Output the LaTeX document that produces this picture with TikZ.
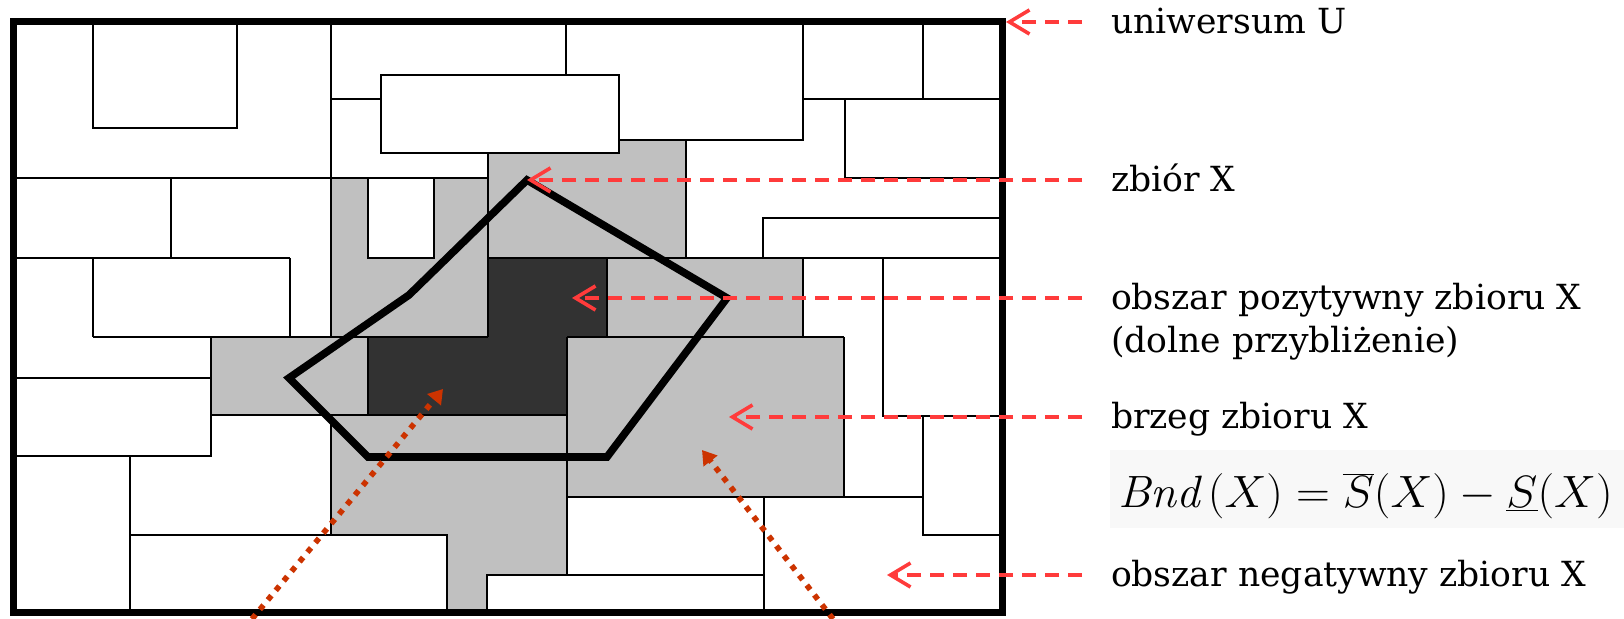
\documentclass[tikz,border=0pt]{standalone}
\usepackage{fontspec}
\usepackage{tikz}
\usetikzlibrary{positioning, arrows.meta}
\newfontfamily\lblfont{DejaVu Serif}
\definecolor{cellgray}{HTML}{C0C0C0}
\definecolor{coregray}{HTML}{323232}
\definecolor{pointred}{HTML}{FF3B3B}
\definecolor{rust}{HTML}{CC3300}
\definecolor{haze}{HTML}{F8F8F8}

\begin{document}
\begin{tikzpicture}[x=0.5pt, y=-0.5pt,
  cell/.style={draw=black, line width=1.1pt},
  frame/.style={draw=black, line width=3.5pt, inner sep=0pt, outer sep=0pt},
  setx/.style={draw=black, line width=3.8pt},
  lbl/.style={font=\lblfont\fontsize{17.3pt}{22pt}\selectfont, anchor=west,
              inner xsep=14.5pt, inner ysep=0pt, outer sep=0pt,
              text height=13pt, text depth=1pt},
  pointer/.style={draw=pointred, line width=1.8pt, dash pattern=on 7pt off 4.5pt,
                  -{Straight Barb[length=10pt, width=12pt]}},
  dotarrow/.style={draw=rust, line width=2.8pt, dash pattern=on 2.8pt off 3.4pt,
                   -{Triangle[length=7pt, width=8.5pt]}}
]
  \useasboundingbox (0,0) rectangle (1624,619);
  \fill[white] (0,0) rectangle (1624,619);

  % boundary region and lower approximation
  \fill[cellgray] (331,178) rectangle (488,337)
    (488,140) rectangle (686,258)
    (607,258) rectangle (803,337)
    (211,337) rectangle (368,415)
    (331,415) rectangle (567,535)
    (447,535) rectangle (567,575)
    (447,575) rectangle (487,613)
    (567,337) rectangle (844,497);
  \fill[coregray] (488,258) -- (607,258) -- (607,337) -- (567,337) -- (567,415)
    -- (368,415) -- (368,337) -- (488,337) -- cycle;

  % elementary sets
  \draw[cell, fill=white] (368,178) rectangle (434,258);
  \draw[cell, fill=white] (381,75) rectangle (619,153);
  \draw[cell] (93,22) -- (93,128) -- (237,128) -- (237,22);
  \draw[cell] (13,178) -- (488,178);
  \draw[cell] (331,22) -- (331,337);
  \draw[cell] (331,99) -- (381,99);
  \draw[cell] (566,22) -- (566,75);
  \draw[cell] (803,22) -- (803,140) -- (619,140);
  \draw[cell] (923,22) -- (923,99);
  \draw[cell] (803,99) -- (1002,99);
  \draw[cell] (845,99) -- (845,178) -- (1002,178);
  \draw[cell] (686,140) -- (686,258);
  \draw[cell] (763,258) -- (763,218) -- (1002,218);
  \draw[cell] (488,258) -- (1002,258);
  \draw[cell] (488,153) -- (488,337);
  \draw[cell] (171,178) -- (171,258);
  \draw[cell] (13,258) -- (290,258);
  \draw[cell] (93,258) -- (93,337);
  \draw[cell] (290,258) -- (290,337);
  \draw[cell] (93,337) -- (488,337);
  \draw[cell] (13,378) -- (211,378);
  \draw[cell] (211,337) -- (211,456) -- (13,456);
  \draw[cell] (211,415) -- (567,415);
  \draw[cell] (368,337) -- (368,415);
  \draw[cell] (607,258) -- (607,337);
  \draw[cell] (567,337) -- (844,337);
  \draw[cell] (567,337) -- (567,575);
  \draw[cell] (803,258) -- (803,337);
  \draw[cell] (844,337) -- (844,497);
  \draw[cell] (883,258) -- (883,416) -- (1002,416);
  \draw[cell] (923,416) -- (923,535) -- (1002,535);
  \draw[cell] (567,497) -- (923,497);
  \draw[cell] (764,497) -- (764,613);
  \draw[cell] (487,613) -- (487,575) -- (764,575);
  \draw[cell] (331,415) -- (331,535);
  \draw[cell] (130,456) -- (130,613);
  \draw[cell] (130,535) -- (447,535) -- (447,613);

  \node[frame, minimum width=494.5pt, minimum height=295.5pt, anchor=north west] (univ) at (13,22) {};

  % the set X
  \coordinate (xtop) at (527,180);
  \draw[setx] (xtop) -- (727,298) -- (607,457) -- (368,457) -- (289,378) -- (409,295) -- cycle;

  \coordinate (posin) at (572,298);
  \coordinate (bndin) at (729,417);
  \coordinate (negin) at (887,575);
  \coordinate (posdot) at (443,389);
  \coordinate (bnddot) at (702,450);
  \coordinate (dotA) at (252,619);
  \coordinate (dotB) at (833,619);

  \node[lbl] (uni) at (1082,22) {uniwersum U};
  \node[lbl] (zbx) at (1082,180) {zbiór X};
  \node[lbl] (poz) at (1082,298) {obszar pozytywny zbioru X};
  \node[lbl, below=7.5pt of poz.south west, anchor=north west] (pozb) {(dolne przybliżenie)};
  \node[lbl] (brz) at (1082,417) {brzeg zbioru X};
  \node[lbl] (neg) at (1082,575) {obszar negatywny zbioru X};

  \fill[haze] (1110,450) rectangle (1624,528);
  \node[anchor=base west, inner sep=0pt, font=\fontsize{24.88pt}{28pt}\selectfont] (bnd) at (1118,508)
    {\scalebox{0.944}[0.91]{$\mathit{Bnd}\,(X) = \overline{S}(X) - \underline{S}(X)$}};

  \draw[pointer, shorten >=2pt] (uni.west) -- (uni.west -| univ.east);
  \draw[pointer] (zbx.west) -- (xtop);
  \draw[pointer] (poz.west) -- (posin);
  \draw[pointer] (brz.west) -- (bndin);
  \draw[pointer] (neg.west) -- (negin);

  \draw[dotarrow] (dotA) -- (posdot);
  \draw[dotarrow] (dotB) -- (bnddot);
\end{tikzpicture}
\end{document}
